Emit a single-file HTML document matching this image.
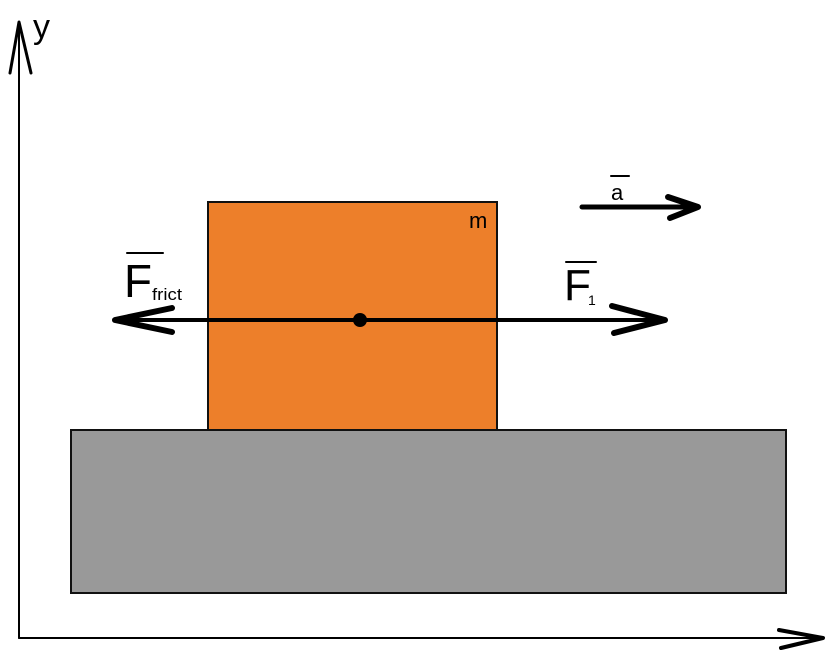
<!DOCTYPE html>
<html><head><style>body{margin:0;background:#fff}svg{display:block}</style></head><body>
<svg width="831" height="660" xmlns="http://www.w3.org/2000/svg" font-family="Liberation Sans, sans-serif">
<rect x="71" y="430" width="715" height="163" fill="#999" stroke="#111" stroke-width="2"/>
<rect x="208" y="202" width="289" height="228" fill="#ED7F2A" stroke="#111" stroke-width="2"/>
<g stroke="#000" fill="none" stroke-linecap="round" stroke-linejoin="round">
<line x1="19" y1="22" x2="19" y2="638" stroke-width="2"/>
<line x1="19" y1="638" x2="823" y2="638" stroke-width="2"/>
<polyline points="10,73 19,22 31,73" stroke-width="3"/>
<polyline points="779,630 823,638 781,648" stroke-width="4"/>
<line x1="115" y1="320" x2="665" y2="320" stroke-width="4"/>
<polyline points="172,308 115,320 172,332" stroke-width="6"/>
<polyline points="612,306 665,320 614,333" stroke-width="6"/>
<line x1="582" y1="207" x2="698" y2="207" stroke-width="5"/>
<polyline points="668,197 698,207 670,218" stroke-width="6"/>
<line x1="127" y1="253" x2="163" y2="253" stroke-width="2"/>
<line x1="566" y1="262" x2="596" y2="262" stroke-width="2"/>
<line x1="611" y1="176" x2="629" y2="176" stroke-width="2"/>
</g>
<circle cx="360" cy="320" r="7" fill="#000"/>
<text x="124" y="297" font-size="46" textLength="28" lengthAdjust="spacingAndGlyphs">F</text>
<text x="152" y="300" font-size="17" textLength="30" lengthAdjust="spacingAndGlyphs">frict</text>
<text x="564" y="300" font-size="44" textLength="27" lengthAdjust="spacingAndGlyphs">F</text>
<text x="588" y="305" font-size="14">1</text>
<text x="611" y="200" font-size="22">a</text>
<text x="469" y="228" font-size="22">m</text>
<text x="33" y="38" font-size="34">y</text>
</svg>
</body></html>
